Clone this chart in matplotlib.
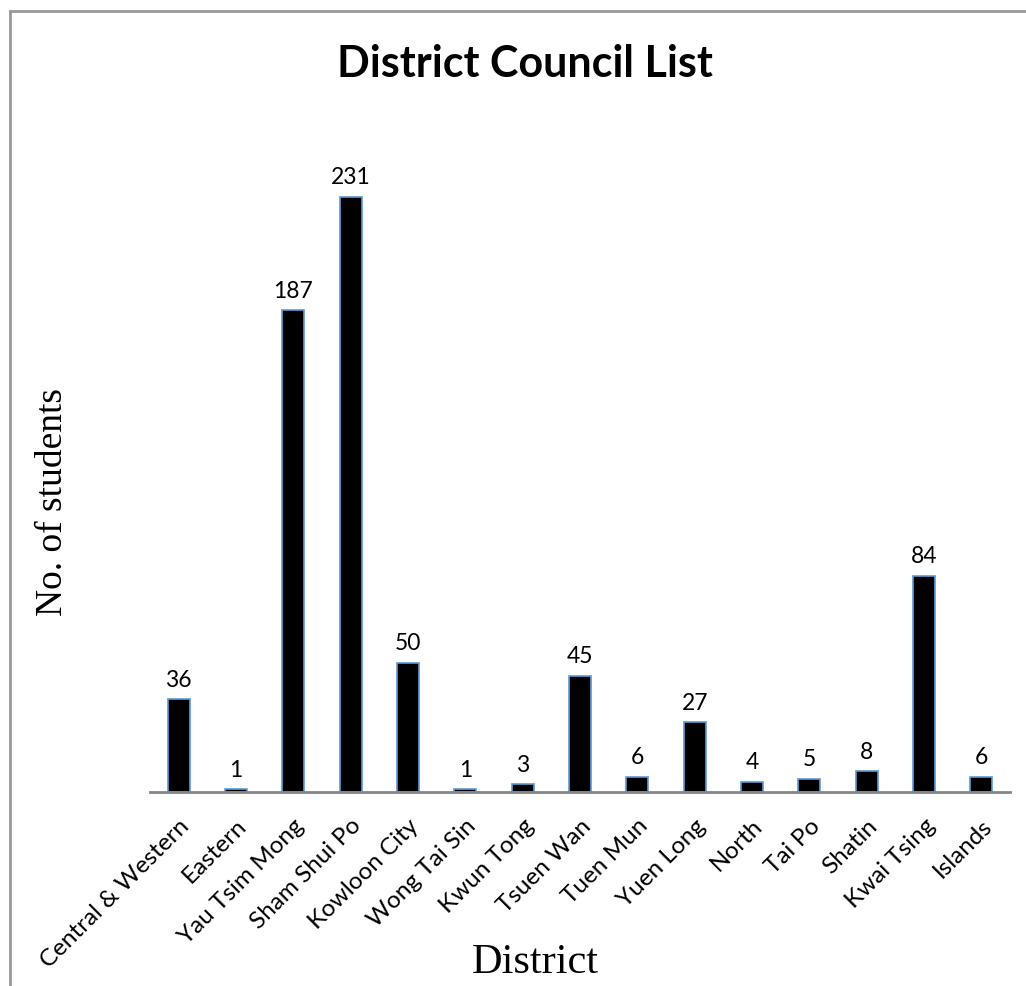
import matplotlib
matplotlib.use("Agg")
import matplotlib.pyplot as plt
from matplotlib.lines import Line2D

districts = ["Central & Western", "Eastern", "Yau Tsim Mong", "Sham Shui Po",
             "Kowloon City", "Wong Tai Sin", "Kwun Tong", "Tsuen Wan",
             "Tuen Mun", "Yuen Long", "North", "Tai Po", "Shatin",
             "Kwai Tsing", "Islands"]
students = [36, 1, 187, 231, 50, 1, 3, 45, 6, 27, 4, 5, 8, 84, 6]

W, H = 1026, 987
fig = plt.figure(figsize=(W / 100, H / 100), dpi=100)

# plot area in pixels: x 150..1010, baseline at y=793
ax = fig.add_axes([150 / W, (H - 793) / H, 860 / W, 644 / H])
x = range(len(districts))
ax.bar(x, students, width=0.38, color="black", edgecolor="#5b9bd5",
       linewidth=1.2, zorder=2)
ax.set_xlim(-0.5, len(districts) - 0.5)
ax.set_ylim(0, 250)

for xi, v in zip(x, students):
    ax.annotate(str(v), (xi, v), xytext=(0, 7), textcoords="offset points",
                ha="center", va="bottom", fontsize=16.5, family="Lato")

for s in ["top", "right", "left"]:
    ax.spines[s].set_visible(False)
ax.spines["bottom"].set_color("#868686")
ax.spines["bottom"].set_linewidth(2)
ax.set_yticks([])
ax.set_xticks(list(x))
ax.set_xticklabels(districts, rotation=45, ha="right", rotation_mode="anchor",
                   fontsize=17.5, family="Lato")
ax.tick_params(axis="x", length=0, pad=16)

fig.text(525 / W, 1 - 64 / H, "District Council List", ha="center",
         va="center", fontsize=31, fontweight="bold", family="Lato")
fig.text(53 / W, 1 - 502 / H, "No. of students", rotation=90, ha="center",
         va="center", fontsize=27, family="Liberation Serif")
fig.text(535 / W, 1 - 963 / H, "District", ha="center", va="center",
         fontsize=30.5, family="Liberation Serif")

# outer frame, only top and left edges fall inside the image
fig.add_artist(Line2D([10 / W, 1], [1 - 12 / H, 1 - 12 / H],
                      transform=fig.transFigure, color="#999999", lw=2))
fig.add_artist(Line2D([10 / W, 10 / W], [0, 1 - 12 / H],
                      transform=fig.transFigure, color="#999999", lw=2))

fig.savefig("out.png", dpi=100)
